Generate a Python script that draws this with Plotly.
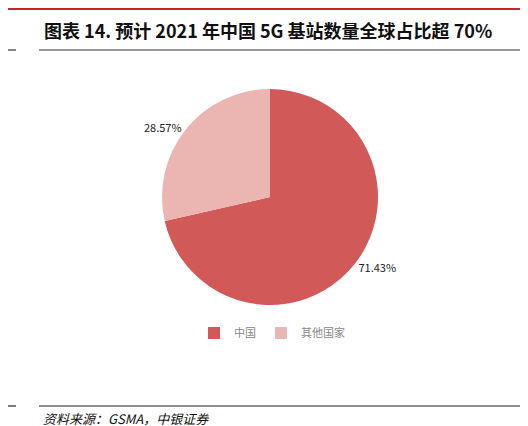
import plotly.graph_objects as go

labels = ["中国", "其他国家"]
values = [71.43, 28.57]
colors = ["#D15A58", "#EBB5B2"]

W, H = 528, 426
fig = go.Figure(go.Pie(
    labels=labels, values=values, sort=False, direction="clockwise", rotation=0,
    marker=dict(colors=colors, line=dict(width=0)),
    texttemplate="%{value:.2f}%", textposition="outside",
    textfont=dict(family="Noto Sans CJK SC", size=11, color="#222"),
    domain=dict(x=[154/W, 370/W], y=[1-297/H, 1-81/H]),
    hoverinfo="skip",
))
shapes = [
    dict(type="line", xref="paper", yref="paper", x0=0, x1=1, y0=1-1/H, y1=1-1/H, line=dict(color="#C0272D", width=2)),
    dict(type="line", xref="paper", yref="paper", x0=0, x1=8/W, y0=1-42/H, y1=1-42/H, line=dict(color="#333", width=1.2)),
    dict(type="line", xref="paper", yref="paper", x0=31/W, x1=1, y0=1-42/H, y1=1-42/H, line=dict(color="#333", width=1.2)),
    dict(type="line", xref="paper", yref="paper", x0=0, x1=8/W, y0=1-398/H, y1=1-398/H, line=dict(color="#222", width=1.2)),
    dict(type="line", xref="paper", yref="paper", x0=31/W, x1=1, y0=1-398/H, y1=1-398/H, line=dict(color="#222", width=1.2)),
]
annotations = [
    dict(text="<b>图表 14. 预计 2021 年中国 5G 基站数量全球占比超 70%</b>", xref="paper", yref="paper",
         x=34/W, y=1-22/H, xanchor="left", yanchor="middle", showarrow=False,
         font=dict(family="Noto Sans CJK SC", size=18, color="#111")),
    dict(text="<i>资料来源：GSMA，中银证券</i>", xref="paper", yref="paper",
         x=33/W, y=1-410/H, xanchor="left", yanchor="middle", showarrow=False,
         font=dict(family="Noto Sans CJK SC", size=13, color="#111")),
]
fig.update_layout(
    width=W, height=H, margin=dict(l=0, r=0, t=0, b=0),
    paper_bgcolor="white", plot_bgcolor="white",
    shapes=shapes, annotations=annotations,
    showlegend=True,
    legend=dict(orientation="h", x=0.5, xanchor="center", y=1-325/H, yanchor="middle",
                font=dict(family="Noto Sans CJK SC", size=11, color="#888"), itemwidth=30),
)
fig.write_html("out.html")
